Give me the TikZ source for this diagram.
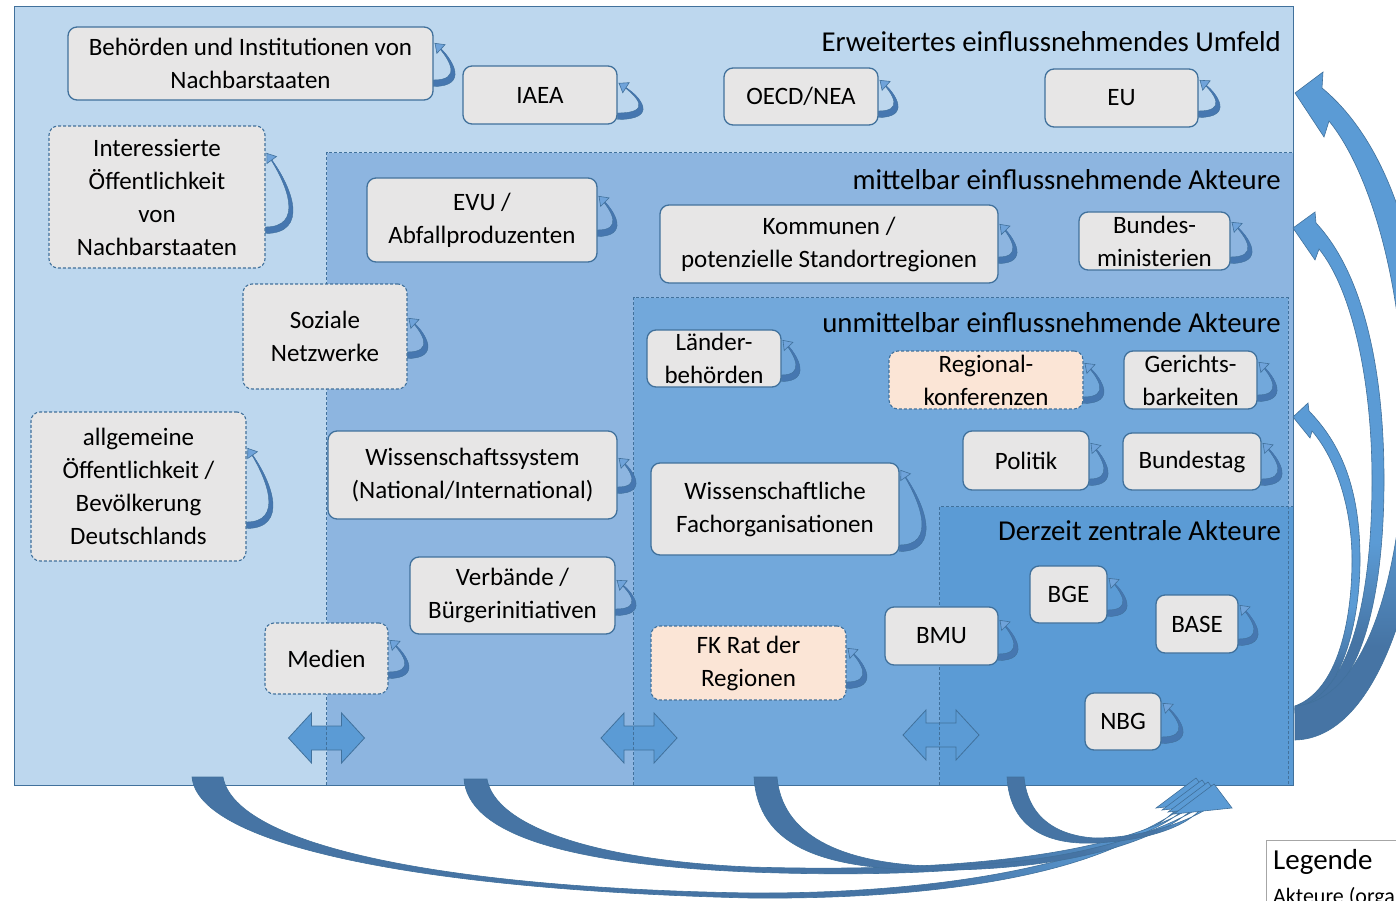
\documentclass[tikz,border=0pt]{standalone}
\usepackage{fontspec}
\setmainfont{Carlito}
\usetikzlibrary{fit,calc,arrows.meta}
\definecolor{cA}{HTML}{BDD7EE}
\definecolor{cB}{HTML}{8DB5E0}
\definecolor{cC}{HTML}{72A8DB}
\definecolor{cD}{HTML}{5B9BD5}
\definecolor{edgeC}{HTML}{41719C}
\definecolor{nodeC}{HTML}{E7E6E6}
\definecolor{peachC}{HTML}{FBE5D6}
\definecolor{loopC}{HTML}{4677B0}
\definecolor{loopL}{HTML}{6FA3DA}
\definecolor{bigL}{HTML}{5B9BD5}
\definecolor{bigD}{HTML}{4674A4}
\definecolor{legC}{HTML}{A6A6A6}
\pgfdeclareverticalshading{rshade}{100bp}{color(0bp)=(bigD); color(25bp)=(bigD); color(32bp)=(bigD); color(42bp)=(bigL); color(100bp)=(bigL)}
\pgfdeclarehorizontalshading{bshade}{100bp}{color(0bp)=(bigD); color(25bp)=(bigD); color(62bp)=(bigD); color(72bp)=(bigL); color(100bp)=(bigL)}
\tikzset{
  actorbox/.style={draw=edgeC, fill=nodeC, line width=1.3pt, rounded corners=9pt, inner sep=0pt},
  actordash/.style={actorbox, line width=1.1pt, dash pattern=on 3pt off 2pt},
  actorpeach/.style={actordash, fill=peachC},
  nodetext/.style={font=\fontsize{25}{33}\selectfont, align=center, inner sep=0pt, text=black},
  titletext/.style={font=\fontsize{28.8}{34}\selectfont, anchor=base east, inner sep=0pt, text=black},
  regionfill/.style={inner sep=0pt, draw=none},
  solidborder/.style={draw=edgeC, line width=1.3pt},
  dashborder/.style={draw=edgeC, line width=1pt, dash pattern=on 3pt off 2pt},
  dblarrowstyle/.style={fill=cD, draw=edgeC, line width=0.8pt},
  bigarrow/.style={draw=edgeC, line width=0.6pt},
  bigheadstyle/.style={fill=bigL, draw=edgeC, line width=0.6pt},
  loopbody/.style={fill=loopC, draw=edgeC, line width=0.4pt},
  looparrow/.style={draw=loopC, line width=0.6pt, -{Triangle[length=9pt,width=13pt,fill=loopL,color=edgeC,line width=0.6pt]}},
}
\newcommand\actor[7]{\node[#2, fit={(#3,#4)(#5,#6)}, label={[nodetext]center:{#7}}] (#1) {};}
\newcommand\selfloop[4]{%
\path let \p1=(#1.east) in
 coordinate (#1-lb) at (\x1,-#3pt)
 coordinate (#1-lt) at (\x1+1pt,-#2pt)
 coordinate (#1-c1) at (\x1+1.6*#4pt,-#3pt)
 coordinate (#1-c2) at (\x1+1.05*#4pt,-0.55*#2pt-0.45*#3pt)
 coordinate (#1-ob) at (\x1,-#3pt-3.5pt)
 coordinate (#1-ib) at (\x1,-#3pt+3pt)
 coordinate (#1-oc1) at (\x1+1.6*#4pt+3.5pt,-#3pt-3.5pt)
 coordinate (#1-ic1) at (\x1+1.6*#4pt-3pt,-#3pt+3pt)
 coordinate (#1-oc2) at (\x1+1.05*#4pt+2.5pt,-0.55*#2pt-0.45*#3pt)
 coordinate (#1-ic2) at (\x1+1.05*#4pt-2pt,-0.55*#2pt-0.45*#3pt);
\filldraw[loopbody] (#1-ob) .. controls (#1-oc1) and (#1-oc2) .. (#1-lt) .. controls (#1-ic2) and (#1-ic1) .. (#1-ib) -- cycle;
\draw[looparrow] (#1-lb) .. controls (#1-c1) and (#1-c2) .. (#1-lt);
}
\newcommand\dblarrow[2]{\filldraw[dblarrowstyle] (#1-38,#2) -- (#1-15,#2-25) -- (#1-15,#2-12) -- (#1+15,#2-12) -- (#1+15,#2-25) -- (#1+38,#2) -- (#1+15,#2+25) -- (#1+15,#2+12) -- (#1-15,#2+12) -- (#1-15,#2+25) -- cycle;}
\newcommand\bhead[2]{\filldraw[bigheadstyle] (#1,#2) -- (#1+18,#2+24) -- (#1-40,#2+30) -- cycle;}
\begin{document}
\begin{tikzpicture}[x=1pt,y=-1pt]
\useasboundingbox (0,0) rectangle (1396,901);
\clip (0,0) rectangle (1396,901);
\fill[white] (0,0) rectangle (1396,901);
% regions
\node[regionfill, fill=cA, fit={(15,7)(1293,785)}] (umfeld) {};
\node[regionfill, fill=cB, fit={(327,153)(1293,785)}] (mittel) {};
\node[regionfill, fill=cC, fit={(634,298)(1288,785)}] (unmittel) {};
\node[regionfill, fill=cD, fit={(940,507)(1293,785)}] (zentral) {};
% double arrows between regions
\dblarrow{326.5}{738}
\dblarrow{639}{738}
\dblarrow{941}{735}
% region borders
\draw[dashborder] (mittel.south west) rectangle (mittel.north east);
\draw[dashborder] (unmittel.south west) rectangle (unmittel.north east);
\draw[dashborder] (zentral.south west) rectangle (zentral.north east);
\draw[solidborder] (umfeld.south west) rectangle (umfeld.north east);
% titles
\node[titletext] (t-umfeld) at (1281,52) {Erweitertes einflussnehmendes Umfeld};
\node[titletext] (t-mittel) at (1281,190) {mittelbar einflussnehmende Akteure};
\node[titletext] (t-unmittel) at (1281,332) {unmittelbar einflussnehmende Akteure};
\node[titletext] (t-zentral) at (1281,540) {Derzeit zentrale Akteure};
% actors
\actor{beh}{actorbox}{68}{27}{433}{100}{Behörden und Institutionen von\\Nachbarstaaten}
\actor{iaea}{actorbox}{463}{66}{617}{124}{IAEA}
\actor{oecd}{actorbox}{724}{68}{878}{125}{OECD/NEA}
\actor{eu}{actorbox}{1045}{69}{1198}{127}{EU}
\actor{inter}{actordash}{49}{126}{265}{268}{Interessierte\\Öffentlichkeit\\von\\Nachbarstaaten}
\actor{evu}{actorbox}{367}{178}{597}{262}{EVU /\\Abfallproduzenten}
\actor{komm}{actorbox}{660}{205}{998}{283}{Kommunen /\\potenzielle Standortregionen}
\actor{bmin}{actorbox}{1079}{212}{1230}{270}{Bundes-\\ministerien}
\actor{soz}{actordash}{243}{284}{407}{389}{Soziale\\Netzwerke}
\actor{laend}{actorbox}{647}{330}{781}{387}{Länder-\\behörden}
\actor{regk}{actorpeach}{889}{351}{1083}{409}{Regional-\\konferenzen}
\actor{ger}{actorbox}{1124}{351}{1257}{409}{Gerichts-\\barkeiten}
\actor{pol}{actorbox}{963}{431}{1089}{490}{Politik}
\actor{bt}{actorbox}{1123}{433}{1261}{490}{Bundestag}
\actor{allg}{actordash}{31}{412}{246}{561}{allgemeine\\Öffentlichkeit /\\Bevölkerung\\Deutschlands}
\actor{wiss}{actorbox}{328}{431}{617}{519}{Wissenschaftssystem\\(National/International)}
\actor{wfach}{actorbox}{651}{463}{899}{555}{Wissenschaftliche\\Fachorganisationen}
\actor{verb}{actorbox}{410}{557}{615}{634}{Verbände /\\Bürgerinitiativen}
\actor{med}{actordash}{265}{623}{388}{694}{Medien}
\actor{fk}{actorpeach}{651}{626}{846}{700}{FK Rat der\\Regionen}
\actor{bmu}{actorbox}{885}{607}{998}{665}{BMU}
\actor{bge}{actorbox}{1030}{566}{1107}{623}{BGE}
\actor{base}{actorbox}{1156}{595}{1238}{653}{BASE}
\actor{nbg}{actorbox}{1085}{693}{1161}{750}{NBG}
% self loops
\selfloop{beh}{43}{83}{19}
\selfloop{iaea}{83}{116}{23}
\selfloop{oecd}{80}{114}{17}
\selfloop{eu}{80}{114}{19}
\selfloop{inter}{153}{230}{25}
\selfloop{evu}{196}{233}{17}
\selfloop{komm}{224}{260}{16}
\selfloop{bmin}{222}{260}{19}
\selfloop{soz}{318}{355}{18}
\selfloop{laend}{340}{378}{16}
\selfloop{regk}{363}{400}{18}
\selfloop{ger}{362}{398}{17}
\selfloop{pol}{443}{482}{16}
\selfloop{bt}{443}{482}{18}
\selfloop{allg}{448}{525}{24}
\selfloop{wiss}{458}{490}{16}
\selfloop{wfach}{470}{548}{24}
\selfloop{verb}{580}{612}{18}
\selfloop{med}{640}{675}{18}
\selfloop{fk}{648}{685}{18}
\selfloop{bmu}{620}{657}{17}
\selfloop{bge}{578}{613}{17}
\selfloop{base}{605}{642}{17}
\selfloop{nbg}{703}{740}{19}
% right big arrows
\shadedraw[bigarrow, shading=rshade] (1295,710) .. controls (1342,702) and (1360,620) .. (1360,560) .. controls (1360,490) and (1342,445) .. (1309,411) -- (1308,403) -- (1293,417) -- (1310,438) -- (1312,431) .. controls (1337,460) and (1352,510) .. (1352,560) .. controls (1352,620) and (1338,690) .. (1295,706) -- cycle;
\shadedraw[bigarrow, shading=rshade] (1295,713) .. controls (1360,705) and (1384,600) .. (1384,480) .. controls (1384,360) and (1360,270) .. (1316,223) -- (1315,212) -- (1293,228) -- (1315,260) -- (1319,249) .. controls (1352,290) and (1372,380) .. (1372,480) .. controls (1372,600) and (1350,695) .. (1295,708) -- cycle;
\shadedraw[bigarrow, shading=rshade] (1295,740) .. controls (1385,738) and (1428,560) .. (1428,420) .. controls (1428,250) and (1385,140) .. (1322,88) -- (1323,72) -- (1295,93) -- (1324,137) -- (1329,121) .. controls (1365,165) and (1403,270) .. (1405,420) .. controls (1405,560) and (1370,700) .. (1295,706) -- cycle;
% bottom big arrows
\shadedraw[bigarrow, shading=bshade] (192,777) .. controls (198,845) and (420,890) .. (750,898) .. controls (960,900) and (1120,868) .. (1181,805) -- (1187,804) .. controls (1115,860) and (955,894) .. (750,893) .. controls (440,888) and (235,845) .. (223,777) -- cycle;
\shadedraw[bigarrow, shading=bshade] (464,779) .. controls (468,832) and (560,864) .. (750,872) .. controls (960,880) and (1125,862) .. (1187,807) -- (1193,806) .. controls (1120,855) and (955,873) .. (750,867) .. controls (590,860) and (495,825) .. (487,779) -- cycle;
\shadedraw[bigarrow, shading=bshade] (754,777) .. controls (758,845) and (820,868) .. (923,870) .. controls (1040,872) and (1145,850) .. (1193,809) -- (1199,808) .. controls (1140,843) and (1040,867) .. (927,866) .. controls (840,862) and (782,835) .. (777,777) -- cycle;
\shadedraw[bigarrow, shading=bshade] (1007,777) .. controls (1010,830) and (1050,845) .. (1095,843) .. controls (1140,841) and (1180,830) .. (1199,811) -- (1205,810) .. controls (1178,826) and (1135,838) .. (1095,838) .. controls (1060,836) and (1028,820) .. (1024,777) -- cycle;
\bhead{1196}{778}
\bhead{1202}{780}
\bhead{1208}{782}
\bhead{1214}{784}
% legend
\node[draw=legC, fill=white, line width=0.8pt, inner sep=0pt, fit={(1266,840)(1430,940)}] (legend) {};
\node[anchor=base west, font=\fontsize{29}{34}\selectfont, inner sep=0pt] (legtitle) at (1273,869) {Legende};
\node[anchor=base west, font=\fontsize{22}{26}\selectfont, inner sep=0pt] (legitem) at (1273,903) {Akteure (orga};
\end{tikzpicture}
\end{document}
